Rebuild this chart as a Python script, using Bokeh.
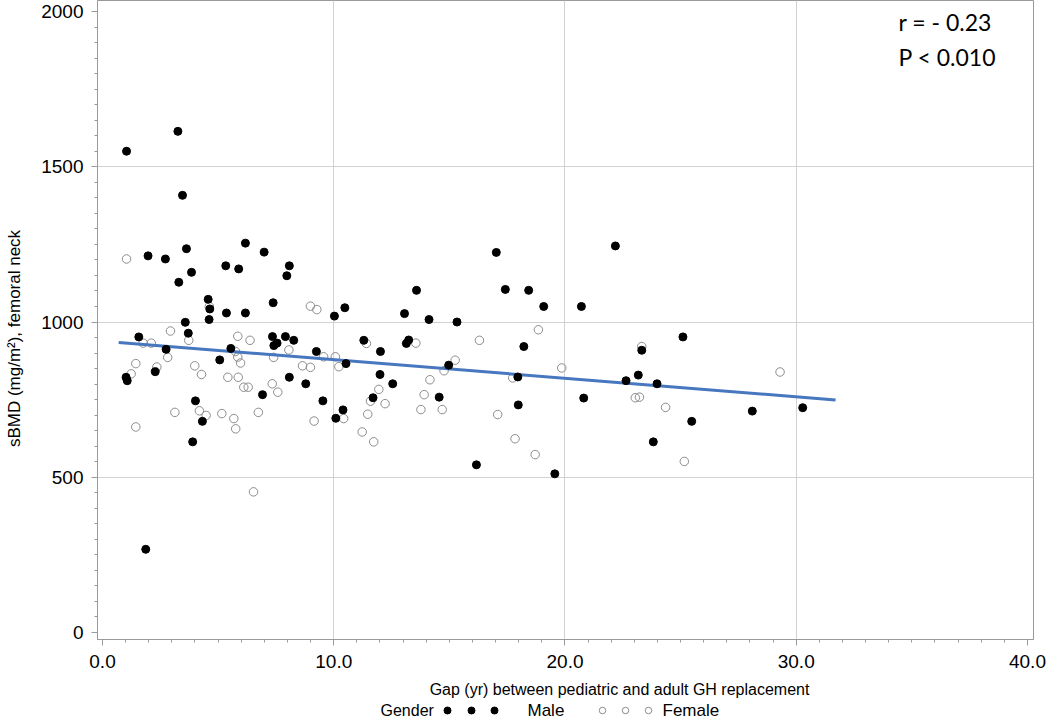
import math
from bokeh.plotting import figure
from bokeh.models import Range1d, FixedTicker, Label, NumeralTickFormatter
from bokeh.layouts import column, row
from bokeh.embed import file_html
from bokeh.resources import INLINE

# ---------------- data ----------------
male_gap = [1.04, 3.26, 3.46, 1.97, 2.72, 3.63, 6.18, 6.99, 5.33, 5.89, 3.85, 3.30, 4.57, 4.64,
            4.61, 5.36, 6.18, 7.38, 7.97, 8.08, 10.03, 10.48, 13.06, 13.58, 14.12, 3.58, 3.71,
            1.57, 2.75, 5.55, 5.07, 7.35, 7.41, 7.55, 7.91, 8.27, 9.25, 11.30, 12.02, 13.14,
            13.24, 10.53, 1.02, 1.07, 2.28, 4.02, 4.32, 3.90, 6.92, 8.08, 8.79, 9.53, 10.09,
            10.40, 12.00, 12.55, 11.70, 1.87, 15.33, 17.03, 17.42, 18.43, 19.08, 20.71, 22.18,
            18.22, 14.97, 14.56, 17.96, 17.98, 16.17, 19.56, 20.81, 22.64, 23.17, 23.32, 23.98,
            25.10, 25.48, 23.82, 28.10, 30.28]
male_sbmd = [1550, 1614, 1408, 1213, 1203, 1236, 1254, 1225, 1181, 1171, 1160, 1128, 1073, 1042,
             1008, 1029, 1029, 1062, 1149, 1181, 1019, 1046, 1027, 1102, 1008, 999, 964,
             952, 912, 915, 878, 953, 924, 932, 953, 941, 905, 941, 905, 931,
             942, 866, 822, 811, 840, 746, 680, 614, 766, 822, 801, 746, 690,
             717, 831, 801, 756, 268, 1000, 1224, 1105, 1102, 1050, 1050, 1245,
             921, 861, 758, 823, 733, 540, 511, 755, 811, 829, 909, 801,
             952, 680, 614, 713, 724]

female_gap = [1.04, 4.62, 8.99, 9.27, 2.94, 1.76, 2.11, 3.73, 2.82, 5.85, 6.38, 5.75, 5.85, 5.97,
              7.40, 8.06, 9.56, 10.07, 11.41, 13.55, 1.44, 1.24, 2.35, 1.44, 3.13, 4.19, 4.48,
              3.99, 4.28, 5.42, 5.87, 6.11, 6.30, 5.16, 5.68, 5.76, 6.53, 6.74, 7.34, 7.58,
              8.65, 8.99, 10.22, 9.15, 10.43, 11.95, 11.59, 12.22, 11.47, 11.23, 11.73, 14.16,
              13.91, 13.77, 16.30, 18.85, 15.25, 14.77, 14.69, 17.74, 17.09, 17.84, 18.71,
              19.86, 23.32, 23.04, 23.22, 24.35, 25.16, 29.30]
female_sbmd = [1203, 1050, 1051, 1040, 971, 932, 932, 941, 886, 954, 941, 905, 887, 868,
               886, 910, 888, 888, 931, 932, 866, 833, 855, 662, 709, 714, 699,
               859, 831, 822, 822, 790, 790, 705, 689, 656, 453, 709, 801, 774,
               859, 854, 856, 681, 689, 783, 745, 737, 703, 646, 614, 814,
               766, 718, 941, 975, 877, 843, 718, 820, 702, 624, 573,
               852, 921, 756, 758, 725, 551, 839]

fit_gap = [0.7, 31.7]
fit_sbmd = [934, 749]

x_ticks = [0, 10, 20, 30, 40]
y_ticks = [0, 500, 1000, 1500, 2000]
x_grid = [10, 20, 30]
y_grid = [500, 1000, 1500]

stats_lines = ["r = - 0.23", "P < 0.010"]
x_label = "Gap (yr) between pediatric and adult GH replacement"
y_label = "sBMD (mg/m\u00b2), femoral neck"
legend_title = "Gender"
legend_labels = ["Male", "Female"]

FONT = "Liberation Sans"
GRAY = "#9a9a9a"
LEFT_W = 30
TOP_H = 678


def strip(width, height, x0=0):
    f = figure(width=width, height=height, x_range=Range1d(x0, x0 + width),
               y_range=Range1d(height, 0), output_backend="svg", toolbar_location=None,
               min_border=0, x_axis_location=None, y_axis_location=None)
    f.frame_align = False
    f.outline_line_color = None
    f.grid.visible = False
    return f


# ---------------- left strip: y-axis title ----------------
pl = strip(LEFT_W, TOP_H)
pl.add_layout(Label(x=14, y=338, text=y_label, angle=math.pi / 2, text_font=FONT,
                    text_font_size="17px", text_align="center", text_baseline="middle",
                    text_color="black"))

# ---------------- main plot ----------------
p = figure(width=1050 - LEFT_W, height=TOP_H,
           x_range=Range1d(-0.216, 40.26), y_range=Range1d(-22.5, 2035.4),
           output_backend="svg", toolbar_location=None,
           min_border_left=97 - LEFT_W, min_border_right=17, min_border_top=0,
           min_border_bottom=39)
p.frame_align = False
p.background_fill_color = "white"
p.border_fill_color = "white"
p.outline_line_color = GRAY

p.xaxis.ticker = FixedTicker(ticks=x_ticks, minor_ticks=[float(i) for i in range(0, 41)])
p.xaxis.formatter = NumeralTickFormatter(format="0.0")
p.yaxis.ticker = FixedTicker(ticks=y_ticks, minor_ticks=list(range(0, 2001, 50)))
p.xgrid.ticker = FixedTicker(ticks=x_grid)
p.ygrid.ticker = FixedTicker(ticks=y_grid)
p.grid.grid_line_color = "#d2d2d2"
p.grid.grid_line_width = 1

for ax in (p.xaxis[0], p.yaxis[0]):
    ax.axis_line_color = GRAY
    ax.major_tick_line_color = GRAY
    ax.minor_tick_line_color = GRAY
    ax.major_tick_out = 6
    ax.major_tick_in = 0
    ax.minor_tick_out = 3
    ax.minor_tick_in = 0
    ax.major_label_text_font = FONT
    ax.major_label_text_font_size = "19px"
    ax.major_label_text_color = "black"

p.xaxis.major_label_standoff = 9
p.yaxis.major_label_standoff = 8

# points and regression line
p.scatter(female_gap, female_sbmd, size=8.5, fill_color=None, line_color="#8c8c8c", line_width=1)
p.line(fit_gap, fit_sbmd, line_color="#4677bf", line_width=3)
p.scatter(male_gap, male_sbmd, size=8, fill_color="black", line_color="black", line_width=1)

# correlation annotation
for i, t in enumerate(stats_lines):
    p.add_layout(Label(x=34.42, y=1965 - i * 113, text=t, text_font="Lato", text_font_size="23px",
                       text_align="left", text_baseline="middle", text_color="black"))

# ---------------- bottom strip: x-axis title and legend ----------------
p2 = strip(1050, 721 - TOP_H)
p2.add_layout(Label(x=619, y=11, text=x_label, text_font=FONT, text_font_size="16px",
                    text_align="center", text_baseline="middle", text_color="black"))
p2.add_layout(Label(x=380, y=32, text=legend_title, text_font=FONT, text_font_size="16px",
                    text_align="left", text_baseline="middle", text_color="black"))
p2.scatter([447, 471, 494], [32, 32, 32], size=7, fill_color="black", line_color="black")
p2.add_layout(Label(x=527, y=32, text=legend_labels[0], text_font=FONT, text_font_size="17px",
                    text_align="left", text_baseline="middle", text_color="black"))
p2.scatter([602, 625, 648], [32, 32, 32], size=6.5, fill_color=None, line_color="#8c8c8c")
p2.add_layout(Label(x=662, y=32, text=legend_labels[1], text_font=FONT, text_font_size="17px",
                    text_align="left", text_baseline="middle", text_color="black"))

layout = column(row(pl, p, spacing=0), p2, spacing=0)
open("out.html", "w").write(file_html(layout, INLINE))
